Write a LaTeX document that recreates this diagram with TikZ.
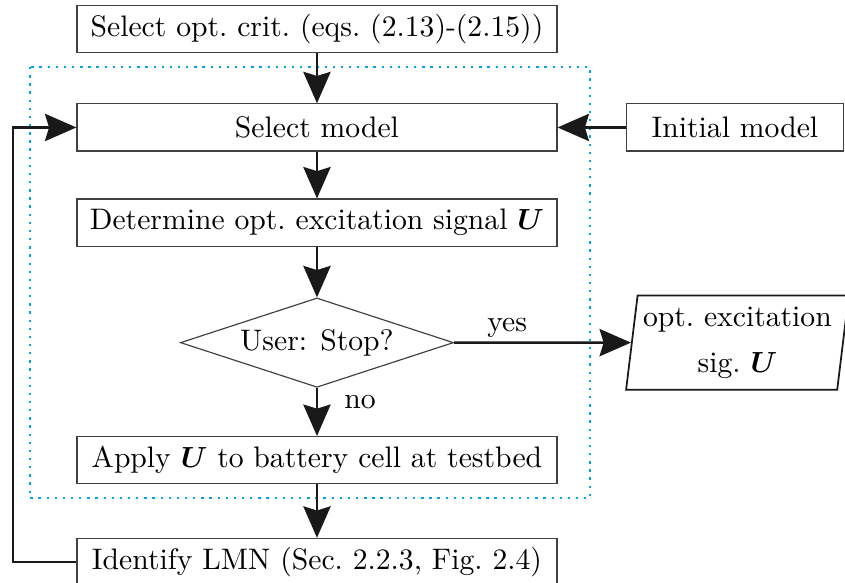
\documentclass[tikz,border=0pt]{standalone}
\usepackage{bm}
\usetikzlibrary{shapes.geometric,arrows.meta}

\tikzset{
	stepbox/.style={draw=black!75, line width=0.4pt, minimum width=5.80cm, minimum height=0.57cm, inner sep=2pt},
	flow/.style={thick, draw=black!90, -{Stealth[length=0.38cm, width=0.33cm, inset=0.05cm]}},
}

\begin{document}
\begin{tikzpicture}[font=\fontsize{10.2}{12.2}\selectfont]
		\useasboundingbox (0, 0) rectangle (10.21, -7.04);
		\node [stepbox] (crit) at (3.83, -0.35) {Select opt.\ crit.\ (eqs.\ (2.13)-(2.15))};
		\node [stepbox] (selmod) at (3.83, -1.54) {Select model};
		\node [stepbox, minimum width=2.62cm] (initmod) at (8.88, -1.54) {Initial model};
		\node [stepbox] (determine) at (3.83, -2.69) {Determine opt.\ excitation signal $\bm{U}$};
		\node [draw=black!75, line width=0.4pt, diamond, aspect=3.07, minimum width=3.30cm, minimum height=1.08cm, inner sep=1pt] (stop) at (3.83, -4.14) {User: Stop?};
		\node [draw=black!90, line width=0.6pt, trapezium, trapezium left angle=81.5, trapezium right angle=98.5, trapezium stretches body, minimum width=2.69cm, minimum height=1.14cm, align=center, inner sep=1pt] (output) at (8.91, -4.14) {opt.\ excitation\\[3.5pt] sig.\ $\bm{U}$};
		\node [stepbox] (apply) at (3.83, -5.56) {Apply $\bm{U}$ to battery cell at testbed};
		\node [stepbox] (identify) at (3.83, -6.79) {Identify LMN (Sec.\ 2.2.3, Fig.\ 2.4)};
		\coordinate (back) at (0.16, 0);
		% loop region
		\draw [color={rgb,255:red,0;green,165;blue,230}, thick, dotted] (0.36, -0.81) rectangle (7.13, -6.02);
		\draw [flow] (crit) -- (selmod);
		\draw [flow] (initmod) -- (selmod);
		\draw [flow] (selmod) -- (determine);
		\draw [flow] (determine) -- (stop);
		\draw [flow] (stop) -- node [pos=0.3, above, yshift=-2pt] {yes} (output);
		\draw [flow] (stop) -- node [pos=0.3, right=0.2cm] {no} (apply);
		\draw [flow] (apply) -- (identify);
		\draw [flow] (identify.west) -- (back |- identify.west) -- (back |- selmod.west) -- (selmod.west);
	\end{tikzpicture}
\end{document}
